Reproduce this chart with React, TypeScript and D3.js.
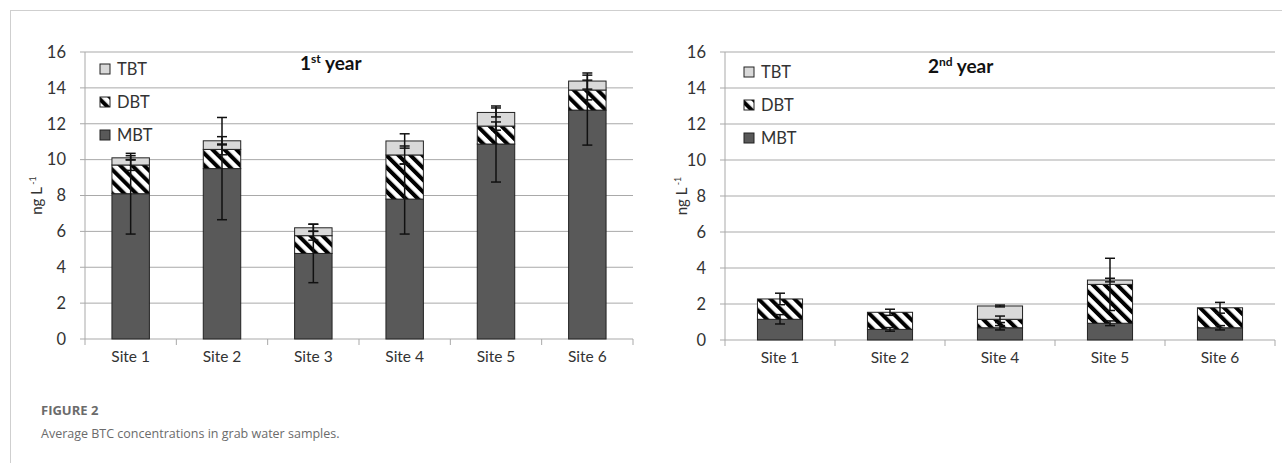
import React from "react";
import * as d3 from "d3";

// series in stacking order (bottom -> top)
const seriesNames = ["MBT", "DBT", "TBT"];
const yTicks = [0, 2, 4, 6, 8, 10, 12, 14, 16];

// 1st year
const sitesY1 = ["Site 1", "Site 2", "Site 3", "Site 4", "Site 5", "Site 6"];
const mbtY1 = [8.1, 9.5, 4.77, 7.8, 10.87, 12.76];
const dbtY1 = [1.6, 1.07, 0.99, 2.46, 1.0, 1.12];
const tbtY1 = [0.4, 0.48, 0.44, 0.78, 0.76, 0.5];
const mbtErrY1 = [2.25, 2.85, 1.63, 1.95, 2.12, 1.95];
const dbtErrY1 = [0.3, 0.3, 0.25, 0.5, 0.23, 0.55];
const tbtErrY1 = [0.12, 0.23, 0.2, 0.4, 0.25, 0.45];

// 2nd year
const sitesY2 = ["Site 1", "Site 2", "Site 4", "Site 5", "Site 6"];
const mbtY2 = [1.15, 0.59, 0.68, 0.93, 0.68];
const dbtY2 = [1.13, 0.95, 0.47, 2.16, 1.11];
const tbtY2 = [0, 0, 0.74, 0.24, 0];
const mbtErrY2 = [0.26, 0.1, 0.12, 0.13, 0.12];
const dbtErrY2 = [0.32, 0.17, 0.18, 1.45, 0.3];
const tbtErrY2 = [0, 0, 0.05, 0.1, 0];

const fills: Record<string, string> = {
  MBT: "#595959",
  DBT: "url(#hatch)",
  TBT: "#d9d9d9",
};

const FONT = "Lato, 'Open Sans', sans-serif";
const GRID = "#a9a9a9";

type PanelProps = {
  left: number;
  right: number;
  top: number;
  bottom: number;
  sites: string[];
  values: number[][];
  errors: number[][];
  titleNum: string;
  titleSup: string;
  titleX: number;
  titleY: number;
  legendX: number;
  legendY: number;
  labelX: number;
};

const Panel = (p: PanelProps) => {
  const x = d3.scaleBand().domain(p.sites).range([p.left, p.right]).paddingInner(0.59).paddingOuter(0.295);
  const y = d3.scaleLinear().domain([0, 16]).range([p.bottom, p.top]);

  const rows = p.sites.map((s, i) => {
    const r: any = { site: s };
    seriesNames.forEach((k, j) => (r[k] = p.values[j][i]));
    return r;
  });
  const stacked = d3.stack().keys(seriesNames)(rows);
  const step = x.step();
  const boundaries = d3.range(p.sites.length + 1).map((i) => p.left + i * step);

  return (
    <g>
      {/* gridlines */}
      {yTicks.map((t) => (
        <line key={t} x1={p.left} x2={p.right} y1={y(t)} y2={y(t)} stroke={GRID} strokeWidth={1} />
      ))}
      {/* y axis */}
      <line x1={p.left} x2={p.left} y1={p.top} y2={p.bottom} stroke={GRID} />
      {yTicks.map((t) => (
        <g key={"yt" + t}>
          <line x1={p.left - 5} x2={p.left} y1={y(t)} y2={y(t)} stroke={GRID} />
          <text x={p.left - 19} y={y(t)} dy="0.35em" textAnchor="end" fontSize={16.5} fill="#333" fontFamily={FONT}>
            {t}
          </text>
        </g>
      ))}
      {/* x axis */}
      {boundaries.map((bx, i) => (
        <line key={"xt" + i} x1={bx} x2={bx} y1={p.bottom} y2={p.bottom + 6} stroke={GRID} />
      ))}
      {p.sites.map((s) => (
        <text key={"xl" + s} x={x(s)! + x.bandwidth() / 2} y={p.bottom + 23} textAnchor="middle" fontSize={15.5} fill="#333" fontFamily={FONT}>
          {s}
        </text>
      ))}
      {/* y label */}
      <text transform={`translate(${p.labelX},${(p.top + p.bottom) / 2}) rotate(-90)`} textAnchor="middle" fontSize={15} fill="#333" fontFamily={FONT}>
        ng L
        <tspan fontSize={9} dy={-6}>
          {" -1"}
        </tspan>
      </text>
      {/* bars */}
      {stacked.map((layer) =>
        layer.map((d, i) =>
          d[1] - d[0] > 0 ? (
            <rect
              key={layer.key + i}
              x={x(p.sites[i])}
              width={x.bandwidth()}
              y={y(d[1])}
              height={y(d[0]) - y(d[1])}
              fill={fills[layer.key]}
              stroke="#222"
              strokeWidth={1}
            />
          ) : null
        )
      )}
      {/* error bars */}
      {stacked.map((layer, j) =>
        layer.map((d, i) => {
          const e = p.errors[j][i];
          if (!e) return null;
          const cx = x(p.sites[i])! + x.bandwidth() / 2;
          const lo = y(d[1] - e);
          const hi = y(d[1] + e);
          return (
            <g key={"e" + layer.key + i} stroke="#111" strokeWidth={1.5}>
              <line x1={cx} x2={cx} y1={lo} y2={hi} />
              <line x1={cx - 5} x2={cx + 5} y1={lo} y2={lo} />
              <line x1={cx - 5} x2={cx + 5} y1={hi} y2={hi} />
            </g>
          );
        })
      )}
      {/* legend */}
      {["TBT", "DBT", "MBT"].map((k, i) => (
        <g key={"lg" + k} transform={`translate(${p.legendX},${p.legendY + i * 33})`}>
          <rect x={0} y={-5} width={10} height={10} fill={fills[k]} stroke="#222" />
          <text x={17} y={0} dy="0.35em" fontSize={16.5} fill="#333" fontFamily={FONT}>
            {k}
          </text>
        </g>
      ))}
      {/* title */}
      <text x={p.titleX} y={p.titleY} fontSize={19} fontWeight="bold" fill="#111" fontFamily={FONT}>
        {p.titleNum}
        <tspan fontSize={12} dy={-7}>
          {p.titleSup}
        </tspan>
        <tspan dy={7}>{" year"}</tspan>
      </text>
    </g>
  );
};

const App = () => {
  return (
    <svg width={1282} height={463} style={{ position: "absolute", left: 0, top: 0, background: "#fff" }}>
      <defs>
        <pattern id="hatch" patternUnits="userSpaceOnUse" width={8.5} height={8.5} patternTransform="rotate(-45)">
          <rect width={8.5} height={8.5} fill="#fff" />
          <rect width={4} height={8.5} fill="#000" />
        </pattern>
      </defs>
      {/* frame */}
      <line x1={10} x2={1282} y1={10.5} y2={10.5} stroke="#cfcfcf" />
      <line x1={10.5} x2={10.5} y1={10} y2={463} stroke="#cfcfcf" />

      <Panel
        left={85}
        right={633}
        top={52}
        bottom={339}
        sites={sitesY1}
        values={[mbtY1, dbtY1, tbtY1]}
        errors={[mbtErrY1, dbtErrY1, tbtErrY1]}
        titleNum="1"
        titleSup="st"
        titleX={300}
        titleY={70}
        legendX={100}
        legendY={69}
        labelX={42}
      />
      <Panel
        left={725}
        right={1275}
        top={52}
        bottom={340}
        sites={sitesY2}
        values={[mbtY2, dbtY2, tbtY2]}
        errors={[mbtErrY2, dbtErrY2, tbtErrY2]}
        titleNum="2"
        titleSup="nd"
        titleX={928}
        titleY={73}
        legendX={744}
        legendY={72}
        labelX={687}
      />

      {/* caption */}
      <text x={41} y={415} fontSize={13} fontWeight="bold" fill="#6b6b6b" fontFamily="'Open Sans', sans-serif">
        FIGURE 2
      </text>
      <text x={41} y={438} fontSize={12.5} fill="#6b6b6b" fontFamily="'Open Sans', sans-serif">
        Average BTC concentrations in grab water samples.
      </text>
    </svg>
  );
};

export default App;
